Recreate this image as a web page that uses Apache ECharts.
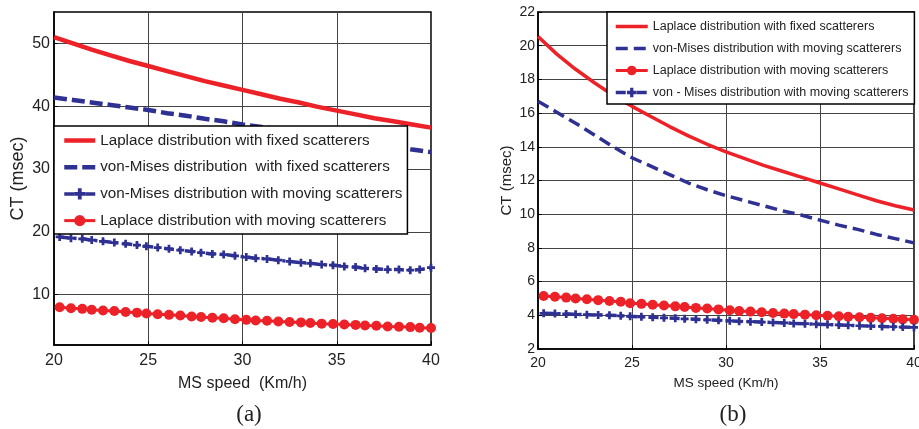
<!DOCTYPE html>
<html>
<head>
<meta charset="utf-8">
<script src="https://cdn.jsdelivr.net/npm/echarts@6/dist/echarts.min.js"></script>
<style>html,body{margin:0;padding:0;background:#fff;}#c{width:919px;height:429px;}</style>
</head>
<body>
<div id="c"></div>
<script>
// ---- data ----
const xFixed = [20,21,22,23,24,25,26,27,28,29,30,31,32,33,34,35,36,37,38,39,40];
const xMoving = [20.3,20.9,21.5,22.0,22.6,23.2,23.8,24.4,24.9,25.5,26.1,26.7,27.3,27.8,28.4,29.0,29.6,30.2,30.7,31.3,31.9,32.5,33.1,33.6,34.2,34.8,35.4,36.0,36.5,37.1,37.7,38.3,38.9,39.4,40.0];

// panel (a)
const aLaplaceFixed = [51.0,50.0,49.0,48.1,47.2,46.4,45.6,44.8,44.0,43.3,42.6,41.9,41.2,40.6,39.9,39.3,38.7,38.1,37.6,37.1,36.6];
const aVonMisesFixed = [41.4,41.0,40.6,40.2,39.8,39.4,38.9,38.5,38.0,37.6,37.1,36.7,36.3,35.8,35.4,34.9,34.5,34.0,33.6,33.1,32.7];
const aVonMisesMoving = [19.2,19.0,18.9,18.7,18.5,18.3,18.1,17.9,17.7,17.5,17.3,17.1,16.9,16.7,16.5,16.4,16.2,16.0,15.8,15.7,15.5,15.3,15.1,15.0,14.8,14.7,14.5,14.4,14.2,14.1,14.0,14.0,13.9,14.0,14.3];
const aLaplaceMoving = [8.0,7.85,7.75,7.6,7.5,7.4,7.25,7.15,7.0,6.9,6.8,6.7,6.55,6.45,6.35,6.25,6.1,6.0,5.9,5.85,5.75,5.65,5.6,5.5,5.4,5.35,5.25,5.2,5.1,5.05,4.95,4.9,4.85,4.75,4.7];

// panel (b)
const bLaplaceFixed = [20.55,19.5,18.6,17.8,17.05,16.4,15.8,15.2,14.65,14.15,13.7,13.3,12.9,12.55,12.2,11.85,11.5,11.15,10.8,10.5,10.25];
const bVonMisesDashed = [16.7,16.05,15.4,14.7,14.0,13.35,12.85,12.35,11.85,11.45,11.1,10.8,10.5,10.2,9.95,9.65,9.35,9.1,8.8,8.55,8.3];
const bLaplaceMoving = [5.15,5.1,5.05,5.0,4.95,4.9,4.85,4.8,4.72,4.68,4.63,4.58,4.53,4.49,4.44,4.4,4.35,4.3,4.26,4.22,4.18,4.14,4.1,4.07,4.04,4.0,3.97,3.94,3.91,3.88,3.85,3.82,3.79,3.76,3.73];
const bVonMisesMoving = [4.12,4.1,4.08,4.06,4.04,4.02,4.0,3.97,3.94,3.91,3.88,3.85,3.82,3.79,3.76,3.73,3.7,3.67,3.64,3.62,3.6,3.57,3.55,3.52,3.5,3.47,3.45,3.43,3.41,3.38,3.36,3.34,3.32,3.3,3.28];

// names / ticks
const namesA = ['Laplace distribution with fixed scatterers','von-Mises distribution  with fixed scatterers','von-Mises distribution with moving scatterers','Laplace distribution with moving scatterers'];
const namesB = ['Laplace distribution with fixed scatterers','von-Mises distribution with moving scatterers','Laplace distribution with moving scatterers','von - Mises distribution with moving scatterers'];
const aYTicks = [10,20,30,40,50];
const xName = ['MS speed  (Km/h)','MS speed (Km/h)'];
const yName = 'CT (msec)';
const panelLabels = ['(a)','(b)'];

// ---- chart ----
const RED = '#ED2228', BLUE = '#2E3192';
const SUFFIX = ' #b';
const zip = (xs, ys) => xs.map((x, i) => [x, ys[i]]);
const PLUS = 'path://M0,3.3H10V6.7H0ZM3.3,0H6.7V10H3.3Z';
const FONT = '"Liberation Sans", Arial, sans-serif';

const chart = echarts.init(document.getElementById('c'), null, {renderer: 'canvas'});

function xAxisCfg(g, fs, margin, name, nameGap, nfs) {
  return {
    gridIndex: g, type: 'value', min: 20, max: 40, interval: 5,
    axisLine: {show: true, lineStyle: {color: '#000', width: 1.5}},
    axisTick: {show: true, inside: true, length: 4, lineStyle: {color: '#000'}},
    axisLabel: {fontSize: fs, color: '#222', margin: margin, fontFamily: FONT, hideOverlap: false},
    splitLine: {show: true, lineStyle: {color: '#444', width: 1}},
    name: name, nameLocation: 'middle', nameGap: nameGap,
    nameTextStyle: {fontSize: nfs, color: '#222', fontFamily: FONT}
  };
}

const option = {
  animation: false,
  backgroundColor: '#fff',
  grid: [
    {left: 54, top: 12, width: 377, height: 333, show: true, borderColor: '#000', borderWidth: 1.5, backgroundColor: '#fff', containLabel: false, outerBoundsMode: 'none'},
    {left: 538, top: 12, width: 376, height: 337, show: true, borderColor: '#000', borderWidth: 1.5, backgroundColor: '#fff', containLabel: false, outerBoundsMode: 'none'}
  ],
  xAxis: [
    xAxisCfg(0, 16, 8, xName[0], 31, 16),
    xAxisCfg(1, 14, 7, xName[1], 27, 13.5)
  ],
  yAxis: [
    {
      gridIndex: 0, type: 'value', min: 2, max: 55,
      axisLine: {show: true, lineStyle: {color: '#000', width: 1.5}},
      axisTick: {show: true, inside: true, length: 4, customValues: aYTicks, lineStyle: {color: '#000'}},
      axisLabel: {fontSize: 16, color: '#222', margin: 4, fontFamily: FONT, customValues: aYTicks},
      splitLine: {show: true, lineStyle: {color: '#444', width: 1}},
      name: yName, nameLocation: 'middle', nameGap: 27,
      nameTextStyle: {fontSize: 18, color: '#222', fontFamily: FONT}
    },
    {
      gridIndex: 1, type: 'value', min: 2, max: 22, interval: 2,
      axisLine: {show: true, lineStyle: {color: '#000', width: 1.5}},
      axisTick: {show: true, inside: true, length: 4, lineStyle: {color: '#000'}},
      axisLabel: {fontSize: 14, color: '#222', margin: 3, fontFamily: FONT},
      splitLine: {show: true, lineStyle: {color: '#444', width: 1}},
      name: yName, nameLocation: 'middle', nameGap: 24,
      nameTextStyle: {fontSize: 15, color: '#222', fontFamily: FONT}
    }
  ],
  legend: [
    {
      left: 54, top: 126, orient: 'vertical',
      data: [
        {name: namesA[0], itemStyle: {opacity: 0}},
        {name: namesA[1], itemStyle: {opacity: 0}},
        {name: namesA[2]},
        {name: namesA[3]}
      ],
      itemWidth: 31, itemHeight: 14, itemGap: 11.7,
      padding: [7, 5, 6, 8],
      backgroundColor: '#fff', borderColor: '#000', borderWidth: 1.5, borderRadius: 0,
      lineStyle: {width: 'inherit'},
      itemStyle: {borderWidth: 0},
      textStyle: {fontSize: 15.2, lineHeight: 14, color: '#222', fontFamily: FONT},
      selectedMode: false
    },
    {
      left: 607, top: 12, orient: 'vertical',
      data: [
        {name: namesB[0] + SUFFIX, itemStyle: {opacity: 0}},
        {name: namesB[1] + SUFFIX, itemStyle: {opacity: 0}},
        {name: namesB[2] + SUFFIX},
        {name: namesB[3] + SUFFIX}
      ],
      formatter: n => n.replace(SUFFIX, ''),
      itemWidth: 32, itemHeight: 12, itemGap: 9,
      padding: [8, 6, 5, 7],
      backgroundColor: '#fff', borderColor: '#000', borderWidth: 1.5, borderRadius: 0,
      lineStyle: {width: 'inherit'},
      itemStyle: {borderWidth: 0},
      textStyle: {fontSize: 12.5, lineHeight: 12, color: '#222', fontFamily: FONT},
      selectedMode: false
    }
  ],
  graphic: [
    {type: 'text', x: 249, y: 415, style: {text: panelLabels[0], fontFamily: '"Liberation Serif", "Times New Roman", serif', fontSize: 23, fill: '#222', align: 'center', verticalAlign: 'middle'}},
    {type: 'text', x: 733, y: 415, style: {text: panelLabels[1], fontFamily: '"Liberation Serif", "Times New Roman", serif', fontSize: 23, fill: '#222', align: 'center', verticalAlign: 'middle'}}
  ],
  series: [
    // panel (a)
    {name: namesA[0], type: 'line', xAxisIndex: 0, yAxisIndex: 0, data: zip(xFixed, aLaplaceFixed),
     symbol: 'none', lineStyle: {color: RED, width: 4.5}, itemStyle: {color: RED}},
    {name: namesA[1], type: 'line', xAxisIndex: 0, yAxisIndex: 0, data: zip(xFixed, aVonMisesFixed),
     symbol: 'none', lineStyle: {color: BLUE, width: 4.5, type: [13, 5]}, itemStyle: {color: BLUE}},
    {name: namesA[2], type: 'line', xAxisIndex: 0, yAxisIndex: 0, data: zip(xMoving, aVonMisesMoving),
     symbol: PLUS, symbolSize: 8, showSymbol: true,
     lineStyle: {color: BLUE, width: 3.5, type: [10, 4, 3, 4]}, itemStyle: {color: BLUE, borderWidth: 0}},
    {name: namesA[3], type: 'line', xAxisIndex: 0, yAxisIndex: 0, data: zip(xMoving, aLaplaceMoving),
     symbol: 'circle', symbolSize: 10, showSymbol: true,
     lineStyle: {color: RED, width: 3}, itemStyle: {color: RED, borderWidth: 0}},
    // panel (b)
    {name: namesB[0] + SUFFIX, type: 'line', xAxisIndex: 1, yAxisIndex: 1, data: zip(xFixed, bLaplaceFixed),
     symbol: 'none', lineStyle: {color: RED, width: 3.5}, itemStyle: {color: RED}},
    {name: namesB[1] + SUFFIX, type: 'line', xAxisIndex: 1, yAxisIndex: 1, data: zip(xFixed, bVonMisesDashed),
     symbol: 'none', lineStyle: {color: BLUE, width: 3.5, type: [12, 6]}, itemStyle: {color: BLUE}},
    {name: namesB[2] + SUFFIX, type: 'line', xAxisIndex: 1, yAxisIndex: 1, data: zip(xMoving, bLaplaceMoving),
     symbol: 'circle', symbolSize: 10, showSymbol: true,
     lineStyle: {color: RED, width: 3}, itemStyle: {color: RED, borderWidth: 0}},
    {name: namesB[3] + SUFFIX, type: 'line', xAxisIndex: 1, yAxisIndex: 1, data: zip(xMoving, bVonMisesMoving),
     symbol: PLUS, symbolSize: 8, showSymbol: true,
     lineStyle: {color: BLUE, width: 3.5, type: [10, 4, 3, 4]}, itemStyle: {color: BLUE, borderWidth: 0}}
  ]
};
chart.setOption(option);
</script>
</body>
</html>
